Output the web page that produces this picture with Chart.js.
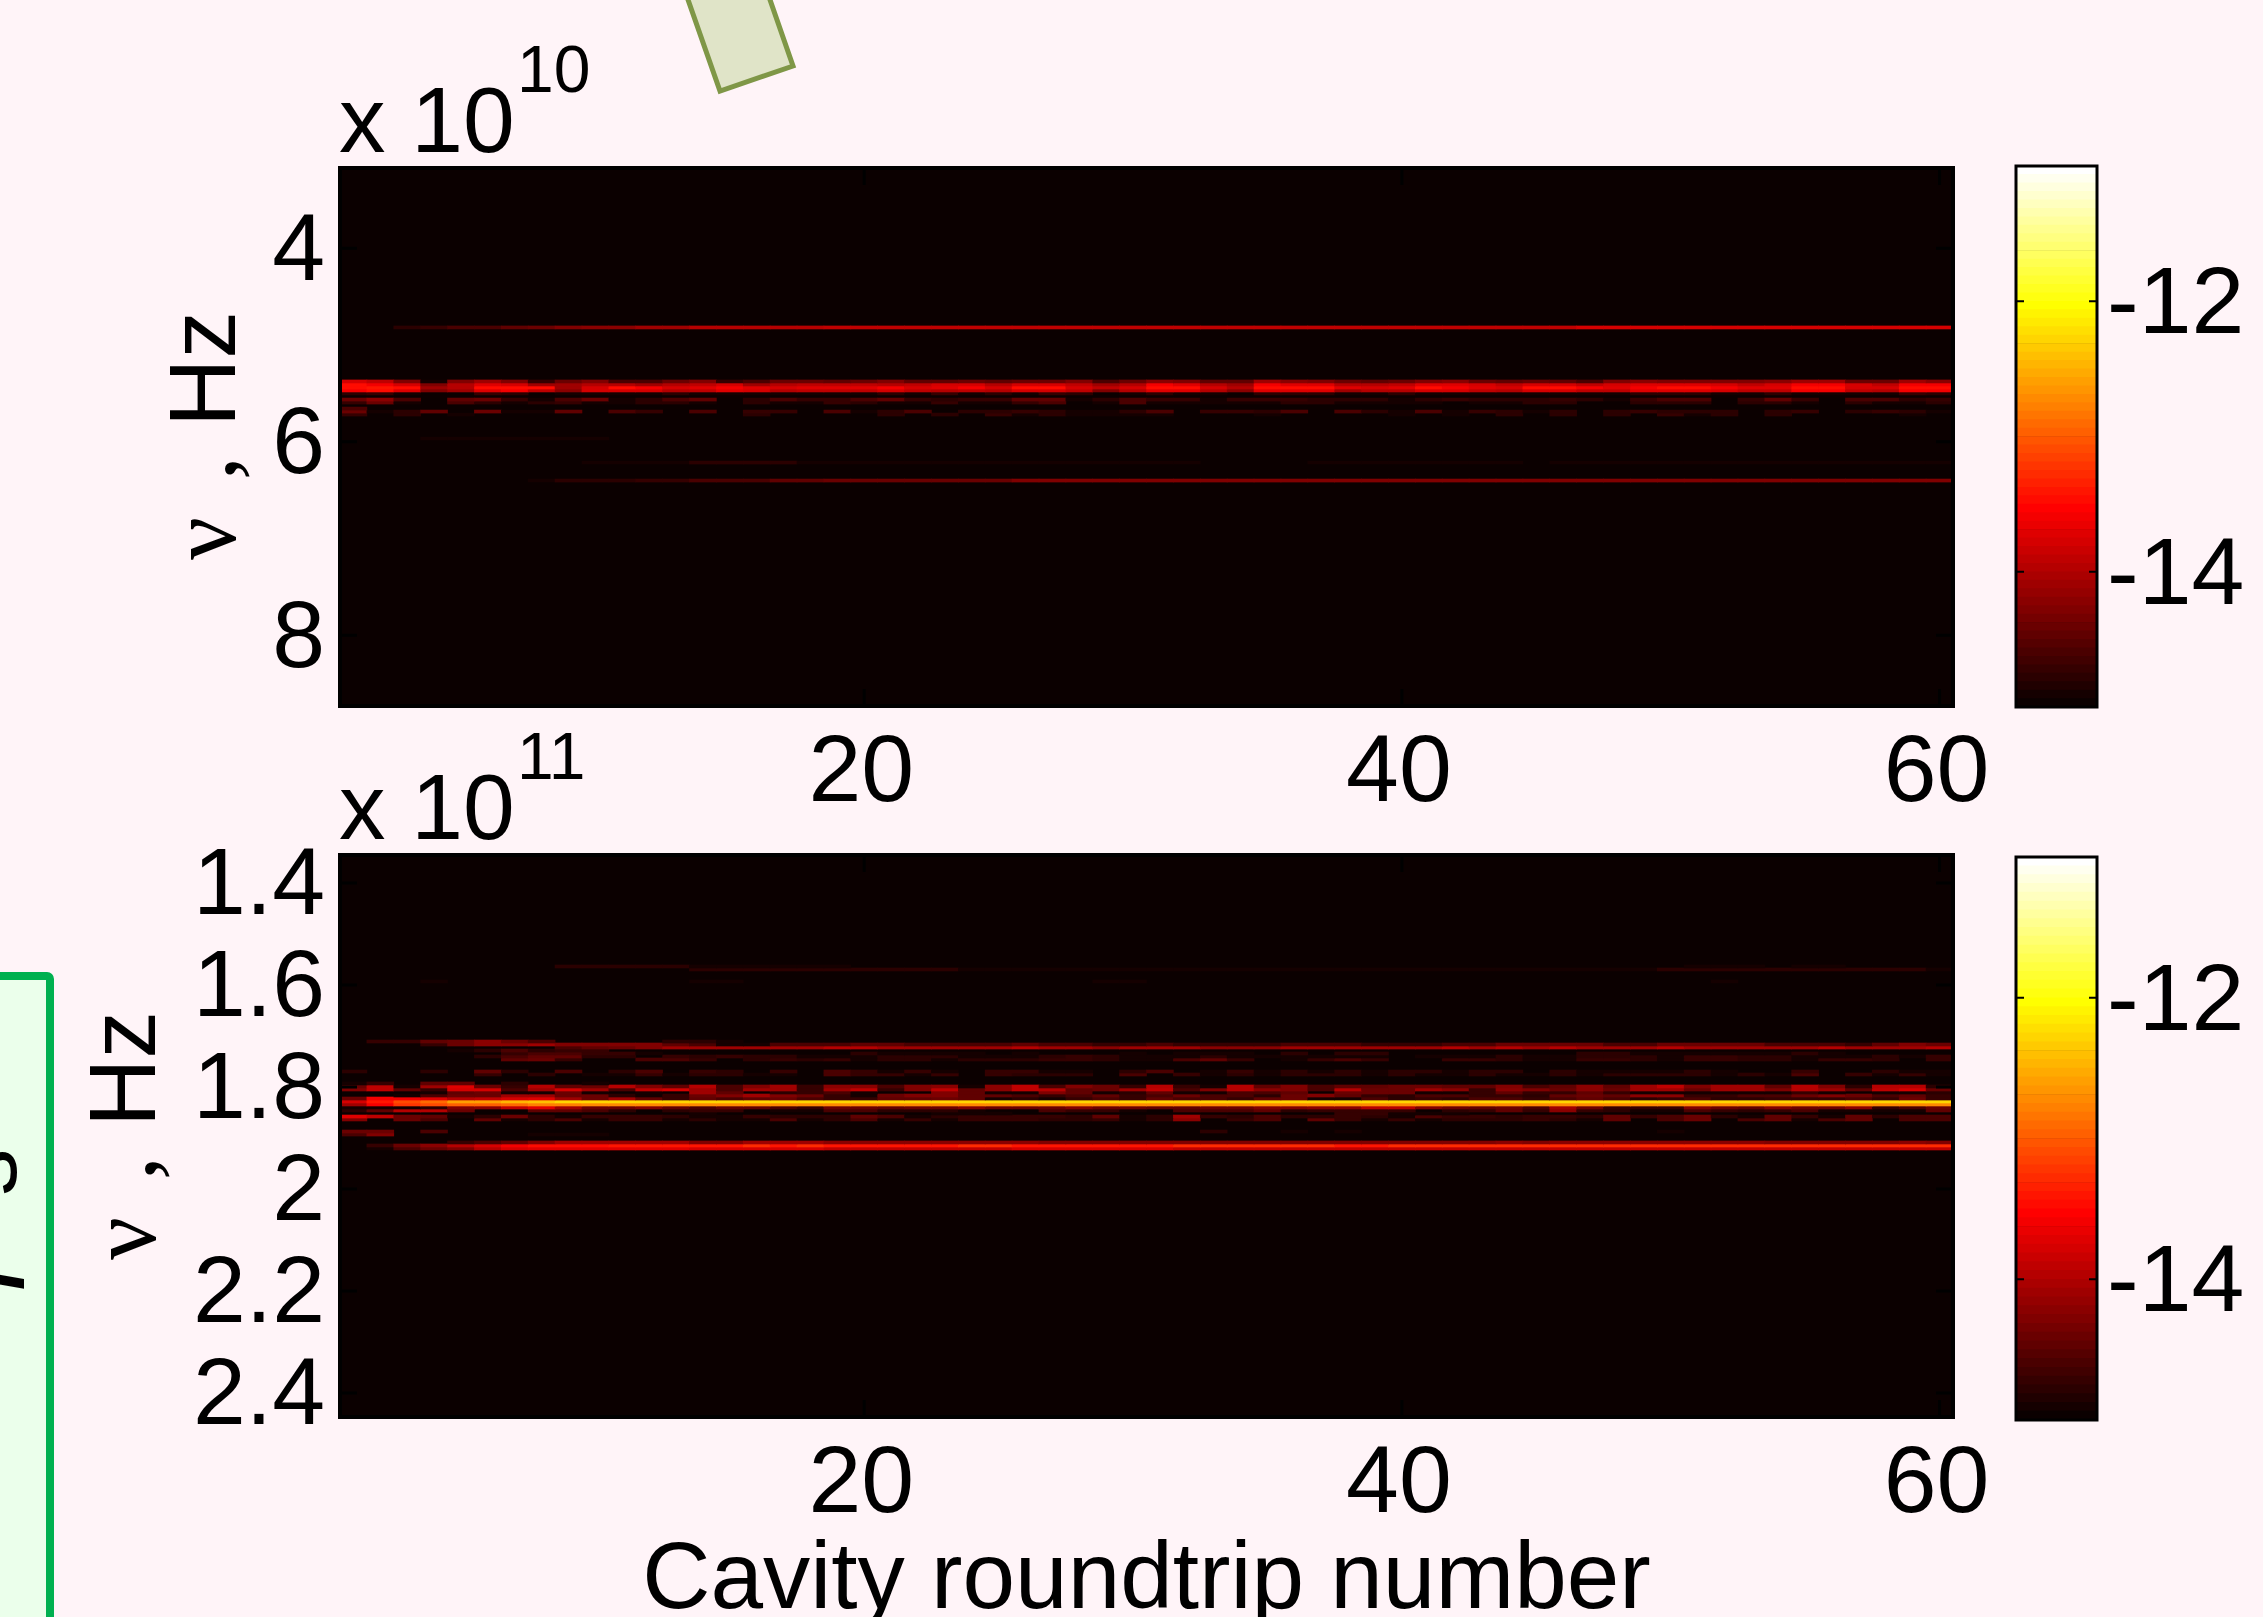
<!DOCTYPE html>
<html>
<head>
<meta charset="utf-8">
<title>Cavity roundtrip spectra</title>
<script src="https://cdn.jsdelivr.net/npm/chart.js@4"></script>
<style>
  html, body { margin: 0; padding: 0; background: #fff4f8; overflow: hidden; }
  body { position: relative; width: 2263px; height: 1617px; }
  canvas, svg { position: absolute; }
  svg { left: 0; top: 0; }
  svg text { font-family: "Liberation Sans", sans-serif; font-size: 95px; fill: #000; }
  svg text.greek { font-family: "Liberation Serif", serif; }
  svg text.clip { font-family: "Liberation Serif", serif; font-style: italic; font-size: 120px; }
  svg text.mult { font-size: 93px; }
  svg text.exp { font-size: 66px; }
</style>
</head>
<body>
<svg width="2263" height="1617" viewBox="0 0 2263 1617">
  <polygon points="686,-6 720,91 793,66 768,-6" fill="#e0e4c8" stroke="#7f9747" stroke-width="5"/>
  <rect x="-10" y="976" width="60" height="660" rx="3" fill="#ebffeb" stroke="#00b050" stroke-width="8"/>
  <text transform="translate(16,1196) rotate(-90)">s</text>
  <text class="clip" transform="translate(-2,1290) rotate(-90)">f</text>

  <text class="mult" x="339" y="152">x 10</text>
  <text class="exp" x="517" y="92">10</text>
  <text class="mult" x="339" y="839">x 10</text>
  <text class="exp" x="517" y="779">11</text>

  <text class="greek" transform="translate(235,560) rotate(-90)">ν</text>
  <text class="greek" transform="translate(235,480) rotate(-90)">,</text>
  <text transform="translate(235,427) rotate(-90)">Hz</text>
  <text class="greek" transform="translate(155,1260) rotate(-90)">ν</text>
  <text class="greek" transform="translate(155,1180) rotate(-90)">,</text>
  <text transform="translate(155,1127) rotate(-90)">Hz</text>
</svg>
<canvas id="upperMap"></canvas>
<canvas id="upperBar"></canvas>
<canvas id="lowerMap"></canvas>
<canvas id="lowerBar"></canvas>
<script>
// x axis
var xTicks = [20, 40, 60];
var xTitle = "Cavity roundtrip number";

// colour range, log10 of the spectral density
var colorMin = -15;
var colorMax = -11;
var colorTicks = [-14, -12];

// upper panel, frequency in units of 1e10 Hz
var upperYTicks = [4, 6, 8];
var upperRowStep = 0.031;
var upperFreqs = [4.818, 5.376, 5.407, 5.438, 5.469, 5.5, 5.563, 5.594, 5.656, 5.687, 5.718, 5.966, 6.214, 6.4];

// one row per frequency, 60 roundtrips, in tenths of a decade above colorMin
var upperLevels = [
  [0,0,2,3,4,4,5,6,7,8,8,9,9,10,10,10,10,10,11, 11,11,11,11,11,11,11,11,11,11,11,11,11,11,11,11,11,11,11, 11,11,11,11,11,11,11,11,12,12,12,12,12,12,12,12,12,12,12,12,12,12],
  [12,11,7,1,7,9,7,3,6,7,4,4,6,7,3,4,6,6,5, 6,7,5,5,6,5,6,6,7,4,6,8,7,5,5,9,8,7,6, 5, 6,7,8,6,5,6,5,4,7,8,7,7,7,7,8,9,9,6,6,9,8],
  [15,14,12,7,10,13,12,9,9,10,10,9,10,11,12,9,10,11,11, 11,10,11,12,12,10,12,12,11,9,10,14,13,10,9,14,13,13,10, 10, 11,13,13,12,11,12,12,11,12,13,13,13,12,11,12,14,14,12,11,14,14],
  [15,16,15,9,10,15,15,15,9,12,15,14,12,13,14,13,12,13,13, 13,14,12,13,14,12,15,15,12,11,12,15,15,12,10,15,15,15,13, 12, 13,15,14,13,12,15,15,14,13,14,15,15,14,13,13,15,15,12,12,15,15],
  [14,15,13,7,9,13,14,11,8,12,12,12,10,11,13,12,10,11,11, 11,12,11,10,11,10,12,12,11,7,10,13,13,10,8,13,13,13,9, 10, 10,12,12,11,10,12,12,11,11,13,13,13,12,11,11,14,14,11,10,14,14],
  [2,3,1,0,0,3,2,0,1,1,1,1,2,1,1,1,1,1,1, 1,2,1,3,1,2,1,3,2,0,1,2,1,1,0,2,2,2,1, 1, 2,1,1,1,1,1,1,1,1,2,2,2,1,1,2,1,1,1,1,3,2],
  [6,8,4,0,5,6,3,1,4,6,1,2,4,5,0,2,4,3,3, 4,5,3,2,3,3,5,5,1,2,4,3,3,1,3,3,3,2,2, 2, 1,2,3,2,2,2,3,2,1,3,4,4,0,3,5,3,0,4,4,2,3],
  [3,6,1,0,4,2,1,2,3,1,1,2,2,1,0,2,1,1,3, 2,1,1,3,1,1,3,4,0,1,4,1,1,1,1,1,2,2,1, 1, 1,1,0,1,1,2,2,0,0,2,2,2,0,2,2,1,0,2,1,1,2],
  [4,0,0,0,0,0,0,0,0,0,0,0,0,0,0,0,0,0,0, 0,0,0,0,0,0,0,0,0,0,0,0,0,0,0,0,0,0,0, 0, 0,0,0,0,0,0,0,0,0,0,0,0,0,0,0,0,0,0,0,0,0],
  [6,1,2,5,0,6,1,1,5,0,4,3,0,4,0,3,3,0,4, 1,2,4,0,2,2,3,2,1,1,2,4,0,3,3,2,4,0,4, 2, 1,4,1,3,2,1,2,0,2,3,2,2,2,0,2,3,0,2,3,2,1],
  [3,0,2,0,1,0,0,0,0,0,0,0,0,0,0,2,0,0,0, 0,2,0,2,0,3,1,2,1,1,1,1,0,0,0,1,0,0,0, 0, 1,0,1,0,2,0,2,0,2,0,3,1,2,0,2,0,0,0,0,1,0],
  [0,0,0,1,1,1,1,1,1,1,0,0,0,0,0,0,0,0,0, 0,0,0,0,0,0,0,0,0,0,0,0,0,0,0,0,0,0,0, 0, 0,0,0,0,0,0,0,0,0,0,0,0,0,0,0,0,0,0,0,0,0],
  [0,0,0,0,0,0,0,0,0,1,1,1,1,2,2,2,2,1,1, 1,1,1,1,1,1,1,1,1,1,1,1,1,0,0,0,0,1,1, 1, 1,1,1,1,1,0,1,1,1,1,1,1,1,1,1,1,1,1,1,1,1],
  [0,0,0,0,0,0,0,1,2,2,2,3,3,4,4,4,5,5,6, 6,6,6,6,6,6,7,7,7,7,7,7,7,7,7,7,7,7,7, 7, 7,7,7,7,7,7,7,7,7,7,7,7,7,7,7,7,7,7,7,7,7]
];

// lower panel, frequency in units of 1e11 Hz
var lowerYTicks = [1.4, 1.6, 1.8, 2, 2.2, 2.4];
var lowerRowStep = 0.00588;
var lowerFreqs = [
  1.5636, 1.5695, 1.593,
  1.7107, 1.7166, 1.7225, 1.7284, 1.7342, 1.7401, 1.746,
  1.7695, 1.7754,
  1.793, 1.7989, 1.8048, 1.8107, 1.8166, 1.8225, 1.8283, 1.8342, 1.8401, 1.846, 1.8519, 1.8578, 1.8636,
  1.8872, 1.8931,
  1.9087, 1.9146, 1.9205
];

var lowerLevels = [
  [0,0,0,0,0,0,0,0,2,2,2,2,2,1,1,1,1,1,1, 0,0,0,0,0,0,0,0,0,0,0,0,0,0,0,0,0,0,0,0,0,0,0,0,0, 0,0,0,0,0,0,1,1,1,0,1,1,0,0,0,0],
  [0,0,0,0,0,0,0,0,0,0,0,0,0,2,2,2,2,2,2, 2,2,2,2,1,1,1,1,1,1,1,1,1,1,1,1,1,1,1,1,1,1,1,1,1, 1,1,1,1,1,2,2,2,2,2,2,2,2,2,2,1],
  [0,0,0,1,0,0,0,0,0,0,0,0,0,1,1,0,0,0,0, 0,0,0,0,0,0,0,0,0,1,1,0,0,0,0,0,0,0,0,0,0,0,0,0,0, 0,0,0,0,0,0,0,1,0,0,0,0,0,0,0,0],

  [0,3,3,5,6,8,6,4,0,0,0,0,2,2,1,0,0,0,0, 0,0,0,0,0,0,0,0,0,0,0,0,0,0,0,0,0,0,0,0,0,0,0,0,0, 0,0,0,0,0,0,0,0,0,0,0,0,0,0,0,0],
  [0,0,0,3,6,8,8,9,7,7,7,7,5,4,1,1,4,4,4, 5,5,4,4,4,4,5,4,4,3,3,4,3,3,3,3,4,4,4,3,3,3,4,4,6, 6,6,6,4,4,6,6,6,6,4,4,4,3,5,7,6],
  [0,0,0,0,0,0,0,0,4,5,6,7,9,9,9,9,9,9, 10,10,9,9,9,9,9,10,9,9,8,9,9,9,8,8,8,9,9,9,9,9,9,10,9,10, 9,10,9,9,9,10,9,9,9,9,9,10,9,9,9,10],
  [0,0,0,0,1,2,4,2,3,3,0,0,0,0,0,0,0,0,0, 0,0,0,0,0,0,0,0,0,0,0,0,0,0,0,0,0,0,0,0,0,0,0,0,0, 0,0,0,0,0,0,0,0,0,0,0,0,0,0,0,0],
  [0,0,0,0,0,0,3,4,4,3,3,1,0,0,0,0,0,0, 0,2,1,1,1,1,0,1,0,0,0,1,0,1,1,1,0,2,0,2,2,0,0,0,0,0, 0,0,2,2,1,1,1,1,1,1,2,1,0,0,0,0],
  [0,0,0,0,0,2,4,5,5,2,2,0,3,2,3,2,2,1, 1,1,2,2,2,1,1,1,2,3,2,1,1,1,2,1,1,1,1,1,1,0,1,1,1,2, 1,1,2,2,2,1,3,3,2,2,1,1,1,2,1,3],
  [0,0,0,0,0,0,5,6,3,0,0,4,4,3,0,2,3,2, 3,1,2,2,1,2,2,2,3,3,2,1,1,4,5,3,0,1,3,4,3,0,0,3,3,2, 1,1,3,3,2,1,3,3,2,2,1,3,3,2,0,3],

  [2,0,0,2,0,5,2,0,4,0,2,4,0,3,2,0,3,0, 4,3,1,3,1,0,3,3,1,1,0,2,4,0,1,3,1,2,1,2,1,2,2,1,2,2, 0,2,1,1,1,1,2,1,0,0,3,0,0,2,1,1],
  [0,0,0,0,0,3,0,2,0,1,1,3,1,2,2,1,1,0, 4,3,3,1,3,0,3,2,2,2,0,4,0,3,1,2,1,2,2,2,1,2,1,1,2,1, 1,2,1,2,2,2,2,1,2,1,4,0,3,1,3,1],

  [1,3,0,5,5,0,2,0,0,1,0,0,0,0,0,0,0,0, 0,0,0,0,0,0,0,0,0,0,0,0,0,0,0,0,0,0,0,0,0,0,0,0,0,0, 0,0,0,0,0,0,0,0,0,0,0,0,0,0,0,0],
  [6,11,1,9,13,6,3,10,5, 6,10,7,5,10,4,7,9,3, 8,8,4,7,8,1,8,11,4,7,6,3,10,3,1,10,5,7,4,5,5,6,6,5,5,7, 4,5,8,5,9,11,7,9,9,5,10,7,2,10,10,2],
  [7,11,5,3,12,12,4,9,12, 9,4,11,12,9,4,9,9,3, 9,11,3,7,11,5,8,11,10,5,6,9,11,4,7,10,8,7,4,10,6,6,9,8,3,8, 7,6,8,6,9,9,6,9,9,7,10,9,5,11,12,6],
  [0,0,0,1,5,6,1,1,6, 1,0,1,0,9,5,0,2,3, 4,1,0,0,7,5,1,1,7,5,1,2,5,1,1,4,4,5,0,6,6,6,1,1,3,5, 3,3,5,3,1,1,1,1,1,1,3,1,0,1,1,2],
  [0,0,1,4,6,6,9,9,6, 6,2,1,3,6,7,9,7,6, 3,1,6,7,7,5,5,4,3,4,5,3,4,6,4,4,2,6,7,5,3,2,4,4,3,3, 2,5,6,5,8,8,3,3,4,4,6,7,6,4,5,3],
  [6,14,14,13,10,11,12,13,9, 6,9,5,3,5,4,5,6,4, 3,3,5,5,6,5,1,2,1,3,4,3,5,4,4,3,5,6,1,1,4,2,3,2,4,4, 3,4,5,4,2,3,4,2,2,3,3,3,4,3,6,3],
  [12,16,19,21,24,24,25,26,27, 27,27,27,27,27,27,27,27,27, 27,27,27,27,27,27,27,27,27,27,27,27,27,27,27,27,27,27,27,27,27,27,27,27,27,27, 27,27,27,27,27,27,27,27,27,27,27,27,27,27,27,27],
  [9,14,18,19,20,20,21,22,22, 23,23,23,23,23,23,23,23,23, 23,23,23,23,23,23,23,23,23,23,23,23,23,23,23,23,23,23,23,23,23,23,23,23,23,23, 23,23,23,23,23,23,23,23,23,23,23,23,23,23,23,23],
  [1,1,1,2,7,8,11,13,9, 6,6,7,5,4,5,5,4,3, 6,6,5,6,6,7,6,6,6,7,6,6,5,5,6,6,7,7,8,8,10,10,7,6,5,6, 4,9,6,3,3,3,7,6,5,7,6,6,8,3,4,6],
  [2,5,10,10,6,0,0,5,5, 4,2,0,2,3,3,0,1,1, 4,4,2,2,2,1,0,0,4,3,3,1,0,4,4,4,5,2,3,3,3,3,0,2,3,5, 3,8,3,2,1,1,4,3,2,3,4,1,1,1,1,5],
  [0,0,0,0,0,0,0,0,0, 0,0,0,0,1,0,0,0,0, 0,0,0,0,1,1,1,0,0,0,0,0,0,0,0,0,0,0,0,3,3,1,1,1,0,0, 0,0,0,0,0,0,0,0,0,0,0,0,0,0,0,0],
  [13,11,6,5,1,2,6,2,1, 3,3,3,2,1,1,3,2,2, 2,5,4,1,2,3,3,3,3,2,5,1,2,9,3,2,4,2,2,3,2,1,4,3,3,2, 3,3,2,5,3,4,6,2,1,5,3,1,5,2,4,4],
  [7,0,6,4,0,5,1,2,4, 1,3,3,1,2,1,1,4,1, 2,4,1,3,1,3,3,3,2,2,3,1,2,8,0,3,4,0,5,3,1,3,1,2,2,2, 3,2,1,5,0,4,6,0,4,5,1,4,5,0,4,4],

  [6,6,0,4,0,0,0,0,0, 0,0,0,0,0,0,0,0,0, 0,0,0,0,0,0,0,0,0,0,0,0,0,0,2,0,0,1,0,1,0,0,0,0,0,0, 0,0,0,0,0,1,0,0,0,0,0,0,0,0,0,0],
  [4,7,0,0,0,0,0,1,1, 1,0,0,0,0,0,0,0,0, 0,0,0,0,0,0,0,0,0,0,0,0,0,0,0,0,0,0,0,0,0,0,0,0,0,0, 0,0,0,0,0,0,0,0,0,0,0,0,0,0,0,0],

  [0,0,0,0,3,4,5,7,9, 9,9,9,9,7,7,9,9,9, 8,8,8,8,8,8,8,8,7,7,7,7,7,7,7,7,7,7,7,7,7,7,7,7,7,8, 7,8,8,8,8,8,8,8,8,7,7,7,7,7,8,7],
  [0,3,6,8,10,12,14,15,15, 15,16,16,16,16,16,17,16,17, 16,16,16,16,16,17,17,16,16,16,16,16,16,17,17,17,17,17,17,16,16,17,17,17,17,17, 17,17,17,17,17,17,17,17,17,17,17,17,17,17,17,17],
  [0,1,4,6,7,10,12,13,13, 13,13,13,13,12,12,12,12,12, 11,11,11,11,11,11,11,12,12,12,12,12,12,11,11,11,11,11,11,11,11,11,11,11,11,11, 11,11,11,11,11,11,11,11,11,11,11,11,11,11,11,11]
];

// MATLAB hot, 64 steps
function hotColor(v) {
  var i = Math.floor((v - colorMin) / (colorMax - colorMin) * 64) + 1;
  i = Math.max(1, Math.min(64, i));
  var r = Math.min(1, i / 24);
  var g = Math.max(0, Math.min(1, (i - 24) / 24));
  var b = Math.max(0, (i - 48) / 16);
  return "rgb(" + Math.round(r * 255) + "," + Math.round(g * 255) + "," + Math.round(b * 255) + ")";
}

// black plot frame and the inward MATLAB ticks
var framePlugin = {
  id: "frame",
  beforeDatasetsDraw: function (chart, args, opts) {
    var a = chart.chartArea, ctx = chart.ctx;
    ctx.save();
    ctx.fillStyle = opts.fill;
    ctx.fillRect(a.left, a.top, a.right - a.left, a.bottom - a.top);
    ctx.restore();
  },
  afterDatasetsDraw: function (chart, args, opts) {
    var a = chart.chartArea, ctx = chart.ctx;
    ctx.save();
    ctx.strokeStyle = "#000";
    ctx.lineWidth = opts.tickWidth;
    ctx.beginPath();
    if (chart.scales.x.options.display) {
      chart.scales.x.ticks.forEach(function (t) {
        var px = chart.scales.x.getPixelForValue(t.value);
        ctx.moveTo(px, a.top); ctx.lineTo(px, a.top + opts.tickLength);
        ctx.moveTo(px, a.bottom); ctx.lineTo(px, a.bottom - opts.tickLength);
      });
    }
    chart.scales.y.ticks.forEach(function (t) {
      var py = chart.scales.y.getPixelForValue(t.value);
      ctx.moveTo(a.left, py); ctx.lineTo(a.left + opts.tickLength, py);
      ctx.moveTo(a.right, py); ctx.lineTo(a.right - opts.tickLength, py);
    });
    ctx.stroke();
    ctx.lineWidth = opts.lineWidth;
    ctx.strokeRect(a.left, a.top, a.right - a.left, a.bottom - a.top);
    ctx.restore();
  }
};

function rowDatasets(freqs, levels, step) {
  return freqs.map(function (f, r) {
    var points = [], colors = [];
    levels[r].forEach(function (d, c) {
      if (d > 0) {
        points.push({ x: c + 1, y: [f - step / 2, f + step / 2] });
        colors.push(hotColor(colorMin + d / 10));
      }
    });
    return { data: points, backgroundColor: colors, borderWidth: 0 };
  });
}

function place(id, left, top, width, height) {
  var el = document.getElementById(id);
  el.style.left = left + "px";
  el.style.top = top + "px";
  el.width = width;
  el.height = height;
  el.style.width = width + "px";
  el.style.height = height + "px";
  return el;
}

// keep the plot box exactly where it is asked to be, whatever the label sizes
function pinY(s, width) {
  s.width = width;
  s.paddingTop = 0;
  s.paddingBottom = 0;
  if (s._margins) { s._margins.top = 0; s._margins.bottom = 0; }
}

function pinX(s, height) {
  s.height = height;
  s.paddingLeft = 0;
  s.paddingRight = 0;
  if (s._margins) { s._margins.left = 0; s._margins.right = 0; }
}

var tickFont = { family: "'Liberation Sans', sans-serif", size: 95 };
var titleFont = { family: "'Liberation Sans', sans-serif", size: 94.5, lineHeight: 0.74 };

function mapChart(id, box, freqs, levels, step, yMin, yMax, yTicks, opts) {
  var padTop = 30, padRight = 2000 - box.right;
  var canvasTop = box.top - padTop;
  var el = place(id, 0, canvasTop, 2000, box.bottom + opts.xHeight - canvasTop);
  return new Chart(el, {
    type: "bar",
    data: { datasets: rowDatasets(freqs, levels, step) },
    plugins: [framePlugin],
    options: {
      responsive: false,
      animation: false,
      events: [],
      layout: { autoPadding: false, padding: { top: padTop, right: padRight, left: 0, bottom: 0 } },
      datasets: { bar: { grouped: false, barPercentage: 1, categoryPercentage: 1 } },
      plugins: {
        legend: { display: false },
        tooltip: { enabled: false },
        frame: { fill: hotColor(colorMin), lineWidth: 4, tickWidth: 3, tickLength: 17 }
      },
      scales: {
        x: {
          type: "linear", min: 0.5, max: 60.5, offset: false,
          grid: { display: false, drawTicks: false, offset: false },
          border: { display: false },
          afterBuildTicks: function (s) { s.ticks = xTicks.map(function (v) { return { value: v }; }); },
          afterFit: function (s) { pinX(s, opts.xHeight); },
          ticks: { font: tickFont, color: "#000", padding: opts.xPad, labelOffset: -3, maxRotation: 0, autoSkip: false, callback: function (v) { return String(v); } },
          title: opts.title ? { display: true, text: opts.title, font: titleFont, color: "#000", padding: 0 } : { display: false }
        },
        y: {
          type: "linear", reverse: true, min: yMin, max: yMax,
          grid: { display: false, drawTicks: false },
          border: { display: false },
          afterBuildTicks: function (s) { s.ticks = yTicks.map(function (v) { return { value: v }; }); },
          afterFit: function (s) { pinY(s, box.left); },
          ticks: { font: tickFont, color: "#000", padding: 15, labelOffset: 5, autoSkip: false, callback: function (v) { return String(v); } }
        }
      }
    }
  });
}

function colorbarChart(id, box) {
  var padTop = 20, padLeft = 10;
  var canvasLeft = box.left - padLeft, canvasTop = box.top - padTop;
  var el = place(id, canvasLeft, canvasTop, 2263 - canvasLeft, box.bottom + 20 - canvasTop);
  var sets = [];
  for (var i = 0; i < 64; i++) {
    var lo = colorMin + i * (colorMax - colorMin) / 64;
    var hi = colorMin + (i + 1) * (colorMax - colorMin) / 64;
    sets.push({ data: [{ x: 0.5, y: [lo, hi] }], backgroundColor: hotColor(lo + 0.01), borderWidth: 0, barThickness: box.right - box.left });
  }
  return new Chart(el, {
    type: "bar",
    data: { datasets: sets },
    plugins: [framePlugin],
    options: {
      responsive: false,
      animation: false,
      events: [],
      layout: { autoPadding: false, padding: { top: padTop, left: padLeft, right: 0, bottom: 20 } },
      datasets: { bar: { grouped: false, barPercentage: 1, categoryPercentage: 1 } },
      plugins: {
        legend: { display: false },
        tooltip: { enabled: false },
        frame: { fill: "#000", lineWidth: 3, tickWidth: 2, tickLength: 8 }
      },
      scales: {
        x: { type: "linear", min: 0, max: 1, display: false, offset: false, grid: { offset: false } },
        y: {
          type: "linear", position: "right", min: colorMin, max: colorMax,
          grid: { display: false, drawTicks: false },
          border: { display: false },
          afterBuildTicks: function (s) { s.ticks = colorTicks.map(function (v) { return { value: v }; }); },
          afterFit: function (s) { pinY(s, 2263 - box.right); },
          ticks: { font: tickFont, color: "#000", padding: 10, labelOffset: 6, autoSkip: false, callback: function (v) { return String(v); } }
        }
      }
    }
  });
}

mapChart("upperMap", { left: 340, right: 1953, top: 168, bottom: 706 }, upperFreqs, upperLevels, upperRowStep, 3.17, 8.73, upperYTicks, { xHeight: 110, xPad: 12 });
mapChart("lowerMap", { left: 340, right: 1953, top: 855, bottom: 1417 }, lowerFreqs, lowerLevels, lowerRowStep, 1.345, 2.447, lowerYTicks, { xHeight: 200, xPad: 12, title: xTitle });
colorbarChart("upperBar", { left: 2016, right: 2097, top: 166, bottom: 707 });
colorbarChart("lowerBar", { left: 2016, right: 2097, top: 857, bottom: 1420 });
</script>
</body>
</html>
